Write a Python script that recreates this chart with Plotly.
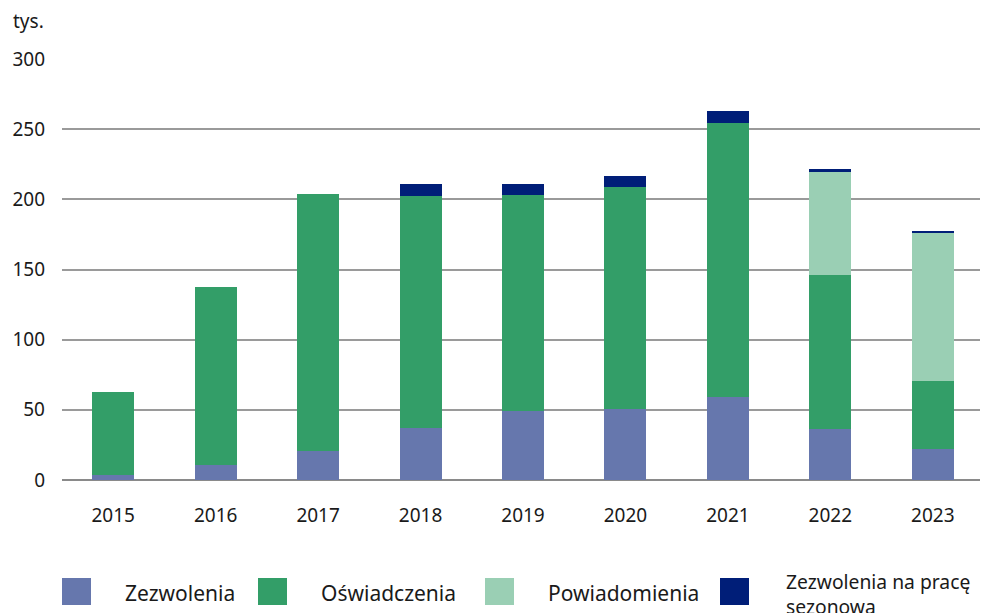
import plotly.graph_objects as go

years = ["2015", "2016", "2017", "2018", "2019", "2020", "2021", "2022", "2023"]
zezwolenia = [3.3, 10.5, 21, 37, 49, 50.5, 59, 36, 22]
oswiadczenia = [59.5, 127, 182.5, 165.5, 154.3, 158.5, 195.4, 110, 48.8]
powiadomienia = [0, 0, 0, 0, 0, 0, 0, 73.7, 105.9]
sezonowe = [0, 0, 0, 8.4, 7.7, 7.6, 8.6, 1.9, 0.8]

names = ["Zezwolenia", "Oświadczenia", "Powiadomienia", "Zezwolenia na pracę<br>sezonowa"]
colors = ["#6677AD", "#339E68", "#9ACFB4", "#001E78"]
series = [zezwolenia, oswiadczenia, powiadomienia, sezonowe]

FONT = "Noto Sans"
TXT = "#1a1a1a"

fig = go.Figure()
for n, c, s in zip(names, colors, series):
    fig.add_trace(go.Bar(x=years, y=s, name=n, marker=dict(color=c, line=dict(width=0)),
                         showlegend=False))

# page offset (body margin 8px); target coordinates are in window pixels
OFF = 8
PL, PT, PW, PH = 62, 59, 922, 421  # plot area in window px


def px(x):
    return (x - PL) / PW


def py(y):
    return (PT + PH - y) / PH


leg_x = [62, 258, 485, 720]
shapes = []
annotations = []
for i, (n, c) in enumerate(zip(names, colors)):
    x0 = leg_x[i]
    shapes.append(dict(type="rect", xref="paper", yref="paper",
                       x0=px(x0), x1=px(x0 + 29), y0=py(605), y1=py(578),
                       fillcolor=c, line=dict(width=0)))
    two = "<br>" in n
    annotations.append(dict(xref="paper", yref="paper", x=px(x0 + 61 if not two else x0 + 64),
                            y=py(593 if not two else 594), text=n, showarrow=False,
                            xanchor="left", yanchor="middle", align="left",
                            font=dict(family=FONT, size=21 if not two else 19.3, color=TXT)))
annotations.append(dict(xref="paper", yref="paper", x=px(11), y=py(21),
                        text="tys.", showarrow=False, xanchor="left", yanchor="middle",
                        font=dict(family=FONT, size=19, color=TXT)))

fig.update_layout(
    width=988 - OFF, height=613 - OFF,
    margin=dict(l=PL - OFF, r=988 - PL - PW, t=PT - OFF, b=613 - PT - PH),
    paper_bgcolor="white", plot_bgcolor="white",
    barmode="stack", bargap=0.59,
    font=dict(family=FONT, size=19, color=TXT),
    shapes=shapes, annotations=annotations,
)
fig.update_xaxes(showgrid=False, showline=False, ticks="", ticklabelstandoff=22,
                 tickfont=dict(family=FONT, size=19, color=TXT))
fig.update_yaxes(range=[0, 300], tickvals=[0, 50, 100, 150, 200, 250, 300],
                 showgrid=True, gridcolor="#9a9a9a", gridwidth=1.5,
                 zeroline=True, zerolinecolor="#8a8a8a", zerolinewidth=2,
                 showline=False, ticks="", ticklabelstandoff=16,
                 tickfont=dict(family=FONT, size=19, color=TXT))

fig.write_html("out.html")
